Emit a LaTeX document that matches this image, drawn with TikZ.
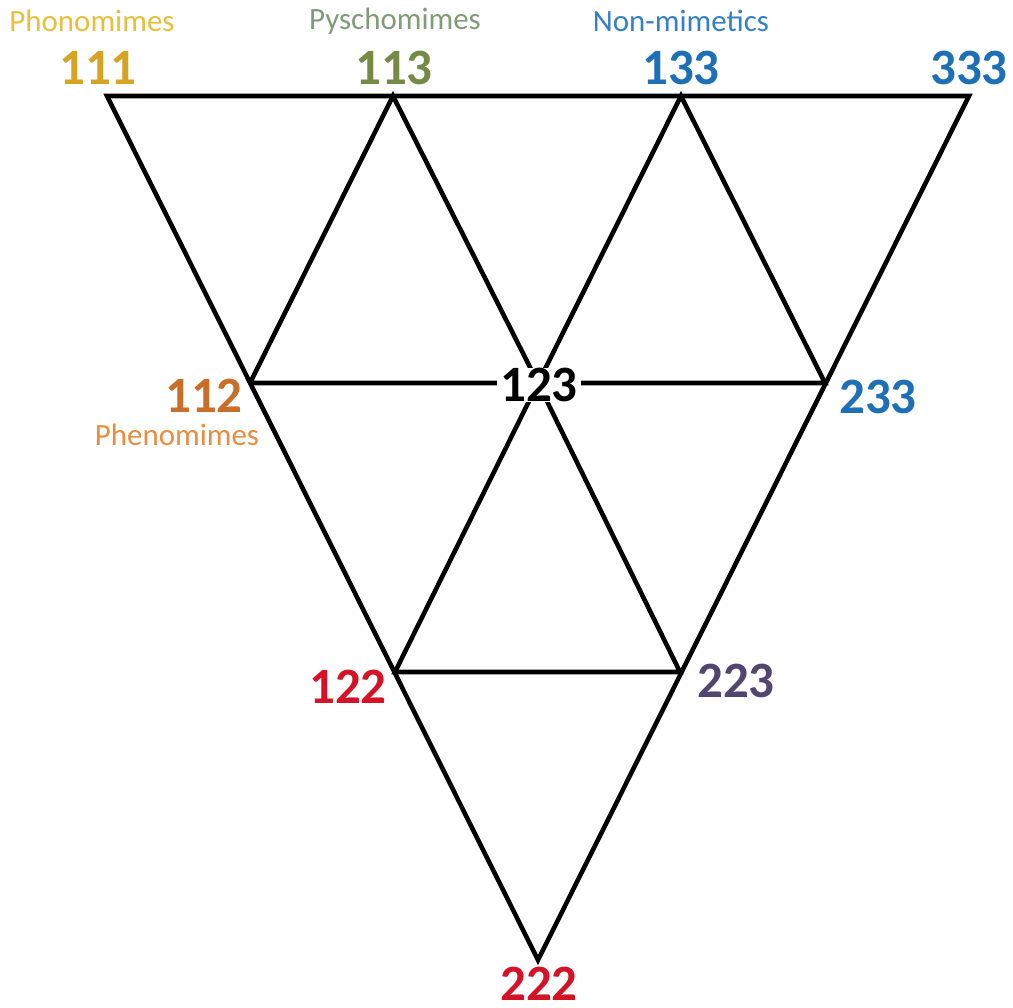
\documentclass[tikz,border=0pt]{standalone}
\usepackage{fontspec}
\setmainfont{Carlito}

\definecolor{phonogold}{RGB}{214,164,36}
\definecolor{phonolight}{RGB}{232,190,60}
\definecolor{psycholive}{RGB}{118,138,70}
\definecolor{psychsage}{RGB}{128,156,118}
\definecolor{nonblue}{RGB}{30,112,182}
\definecolor{nonlight}{RGB}{52,128,196}
\definecolor{phenobrown}{RGB}{200,110,40}
\definecolor{phenoorange}{RGB}{236,140,62}
\definecolor{numred}{RGB}{212,20,38}
\definecolor{numpurple}{RGB}{82,70,112}

\tikzset{
  edge/.style={line width=1.3pt, line join=miter},
  num/.style={font=\fontsize{14.5}{16}\selectfont\bfseries, inner sep=0pt},
  tag/.style={font=\fontsize{8.8}{10}\selectfont, inner sep=0pt}
}

\begin{document}
\begin{tikzpicture}
    \useasboundingbox (0,0) rectangle (10.13,-10.08);

    % Corners of the small triangles
    \coordinate (v111) at (1.07,-0.96);
    \coordinate (v113) at (3.93,-0.96);
    \coordinate (v133) at (6.81,-0.96);
    \coordinate (v333) at (9.69,-0.96);
    \coordinate (v112) at (2.50,-3.83);
    \coordinate (v123) at (5.38,-3.83);
    \coordinate (v233) at (8.25,-3.83);
    \coordinate (v122) at (3.95,-6.72);
    \coordinate (v223) at (6.80,-6.72);
    \coordinate (v222) at (5.38,-9.60);

    % Outer triangle
    \draw[edge] (v111) -- (v333) -- (v222) -- cycle;
    % Inner lines
    \draw[edge] (v112) -- (v113) -- (v123) -- (v133) -- (v233) -- (v112);
    \draw[edge] (v122) -- (v123) -- (v223) -- cycle;

    % Top row
    \node[tag, text=phonolight] (phono) at (0.92,-0.21) {Phonomimes};
    \node[num, text=phonogold] (n111) at (0.98,-0.68) {111};
    \node[tag, text=psychsage] (psycho) at (3.95,-0.21) {Pyschomimes};
    \node[num, text=psycholive] (n113) at (3.94,-0.68) {113};
    \node[tag, text=nonlight] (nonmim) at (6.81,-0.21) {Non-mimetics};
    \node[num, text=nonblue] (n133) at (6.81,-0.68) {133};
    \node[num, text=nonblue] (n333) at (9.69,-0.68) {333};

    % Middle row
    \node[num, text=phenobrown] (n112) at (2.04,-3.96) {112};
    \node[tag, text=phenoorange] (pheno) at (1.77,-4.35) {Phenomimes};
    \node[num, fill=white, inner xsep=1pt] (n123) at (5.39,-3.85) {123};
    \node[num, text=nonblue] (n233) at (8.78,-3.97) {233};

    % Lower rows
    \node[num, text=numred] (n122) at (3.48,-6.87) {122};
    \node[num, text=numpurple] (n223) at (7.36,-6.81) {223};
    \node[num, text=numred] (n222) at (5.39,-9.84) {222};
\end{tikzpicture}
\end{document}
